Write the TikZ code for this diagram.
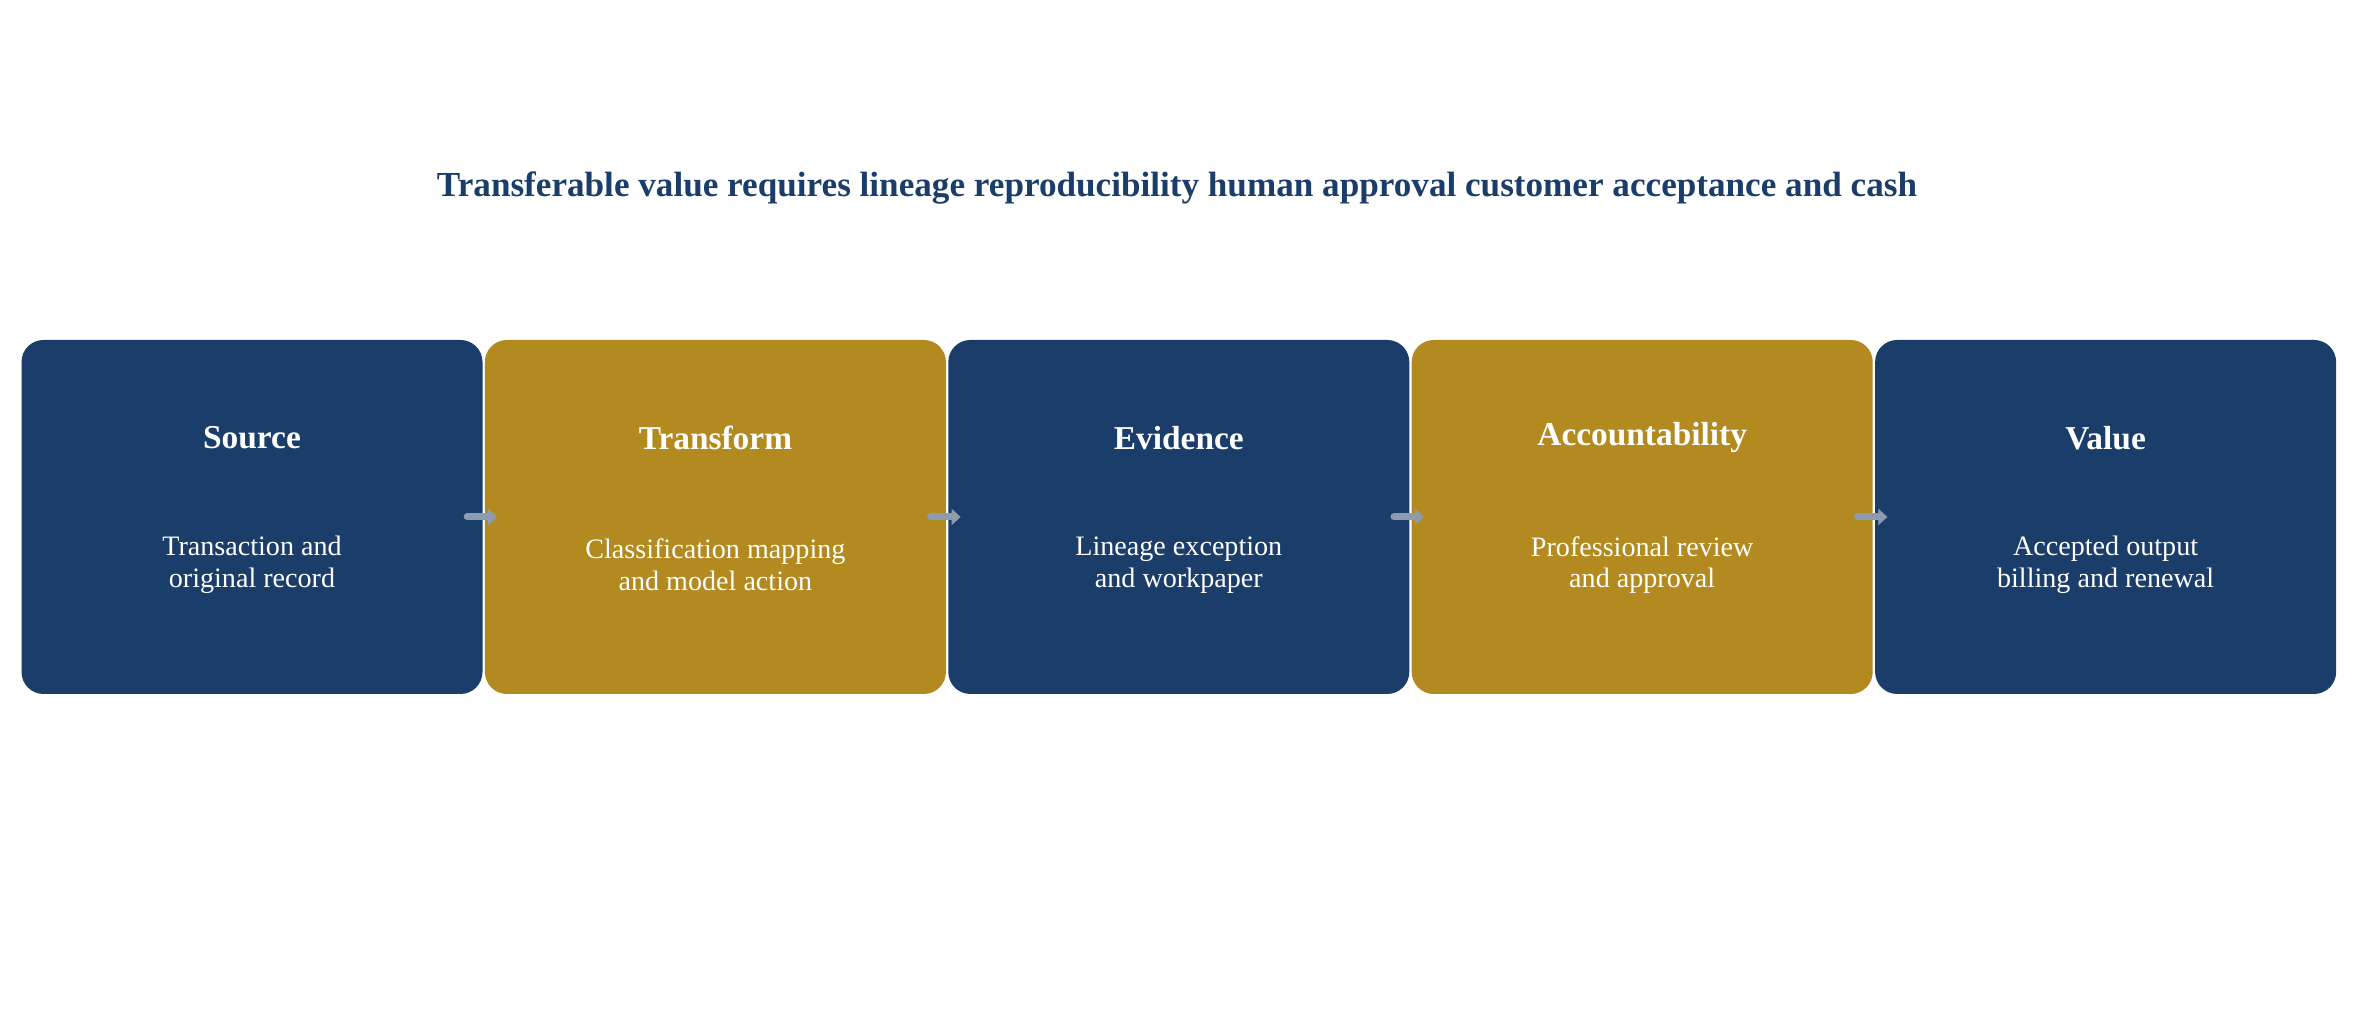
\documentclass[tikz,border=0pt]{standalone}
\usepackage{fontspec}
\setmainfont{Liberation Serif}
\usetikzlibrary{arrows.meta,positioning}
\definecolor{navy}{HTML}{1A3D6A}
\definecolor{gold}{HTML}{B38A20}
\definecolor{linkgrey}{HTML}{8C9BAE}

\begin{document}
\begin{tikzpicture}[x=1cm,y=1cm,
  stage/.style={rectangle,rounded corners=0.22cm,minimum width=4.61cm,minimum height=3.54cm,inner sep=0pt},
  head/.style={text=white,font=\fontsize{9.5}{11}\selectfont\bfseries},
  body/.style={text=white,font=\fontsize{8}{9}\selectfont,align=center},
  link/.style={-{Triangle[length=0.09cm,width=0.16cm]},line width=0.07cm,line cap=round,linkgrey}]

 \useasboundingbox (0,0) rectangle (23.54,10.34);
 \node (title) at (11.77,8.46) {\fontsize{10}{12}\selectfont\bfseries\color{navy}Transferable value requires lineage reproducibility human approval customer acceptance and cash};

 \node[stage,fill=navy] (source) at (2.52,5.17) {};
 \node[stage,fill=gold,right=0.01cm of source] (transform) {};
 \node[stage,fill=navy,right=0.01cm of transform] (evidence) {};
 \node[stage,fill=gold,right=0.01cm of evidence] (account) {};
 \node[stage,fill=navy,right=0.01cm of account] (value) {};

 \foreach \n/\h/\b in {source/Source/{Transaction and\\original record},
                       transform/Transform/{Classification mapping\\and model action},
                       evidence/Evidence/{Lineage exception\\and workpaper},
                       account/Accountability/{Professional review\\and approval},
                       value/Value/{Accepted output\\billing and renewal}} {
   \node[head] at ([yshift=0.79cm]\n.center) {\h};
   \node[body] at ([yshift=-0.48cm]\n.center) {\b};
 }

 \foreach \a/\b in {source/transform,transform/evidence,evidence/account,account/value}
   \draw[link] ([xshift=-0.16cm]\a.east) -- ([xshift=0.13cm]\b.west);
\end{tikzpicture}
\end{document}
